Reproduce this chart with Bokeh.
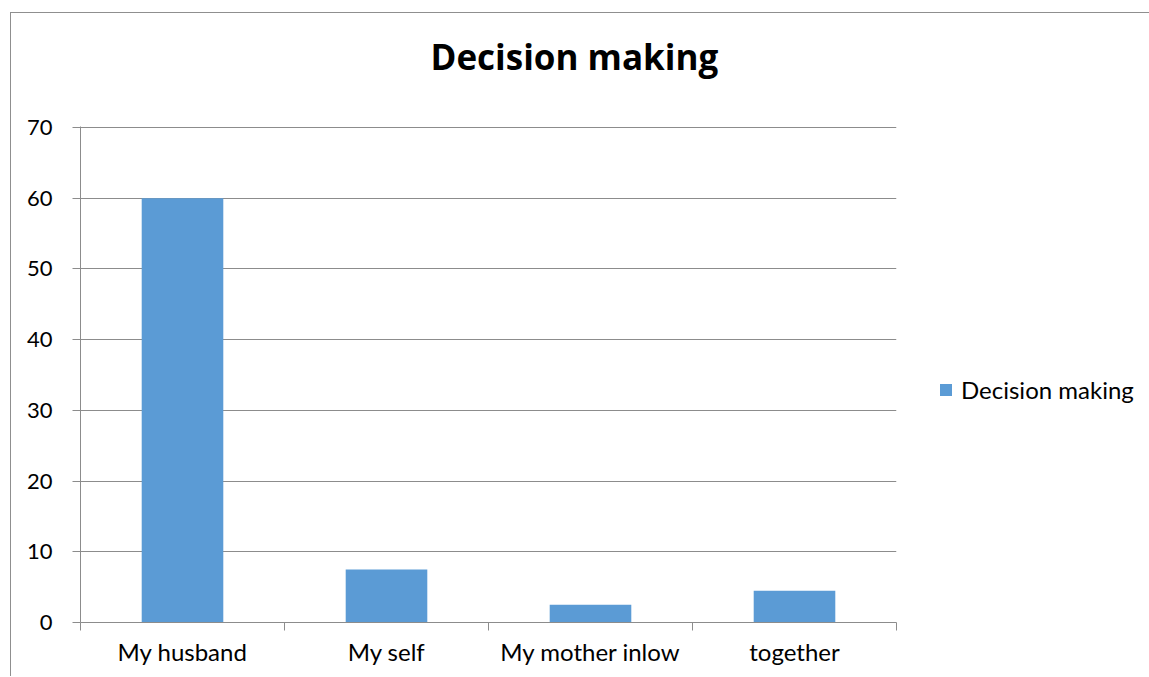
from bokeh.plotting import figure
from bokeh.models import (Range1d, LinearAxis, FixedTicker, Title,
                          Legend, LegendItem, ColumnDataSource)
from bokeh.embed import file_html
from bokeh.resources import INLINE

categories = ["My husband", "My self", "My mother inlow", "together"]
values = [60, 7.5, 2.5, 4.5]
series_name = "Decision making"
title_text = "Decision making"
y_ticks = [0, 10, 20, 30, 40, 50, 60, 70]

FONT = "Lato"
GRID = "#8c8c8c"
BAR = "#5b9bd5"

n = len(categories)
centers = [i + 0.5 for i in range(n)]
src = ColumnDataSource(dict(x=centers, cat=categories, val=values))

p = figure(x_range=Range1d(0, n), y_range=Range1d(0, 70.15),
           frame_width=816, frame_height=496, output_backend="svg", toolbar_location=None,
           min_border_left=69, min_border_right=0, min_border_top=113, min_border_bottom=54)
p.styles = {"margin-left": "10px", "margin-top": "12px",
            "border-left": "1.5px solid #8f8f8f", "border-top": "1.5px solid #8f8f8f"}
p.outline_line_color = None
p.background_fill_color = "white"
p.border_fill_color = "white"
p.title.text = ""
p.title.standoff = 0

r = p.vbar(x="x", top="val", width=0.4, source=src, fill_color=BAR, line_color=None)

# grid
p.xgrid.grid_line_color = None
p.ygrid.grid_line_color = GRID
p.ygrid.grid_line_width = 1
p.ygrid.ticker = FixedTicker(ticks=y_ticks)

# y axis
yax = p.yaxis[0]
yax.ticker = FixedTicker(ticks=y_ticks)
yax.axis_line_color = GRID
yax.major_tick_line_color = GRID
yax.major_tick_out = 8
yax.major_tick_in = 0
yax.minor_tick_line_color = None
yax.major_label_text_font = FONT
yax.major_label_text_font_size = "22px"
yax.major_label_text_color = "black"
yax.major_label_standoff = 20

# x axis: ticks at category boundaries
edge_axis = p.xaxis[0]
edge_axis.ticker = FixedTicker(ticks=list(range(n + 1)))
edge_axis.axis_line_color = GRID
edge_axis.major_tick_line_color = GRID
edge_axis.major_tick_out = 8
edge_axis.major_tick_in = 0
edge_axis.minor_tick_line_color = None
edge_axis.major_label_text_font_size = "1px"
edge_axis.major_label_text_alpha = 0
edge_axis.major_label_standoff = 0

# category labels at centers
cax = LinearAxis(ticker=FixedTicker(ticks=centers),
                 major_label_overrides={c: lab for c, lab in zip(centers, categories)})
cax.axis_line_color = None
cax.major_tick_line_color = None
cax.minor_tick_line_color = None
cax.major_label_text_font = FONT
cax.major_label_text_font_size = "24px"
cax.major_label_text_color = "black"
cax.major_label_standoff = 0
p.add_layout(cax, "below")

# title (a blank spacer keeps it clear of the plot area)
p.add_layout(Title(text=" ", text_font=FONT, text_font_size="26px", standoff=0), "above")
p.add_layout(Title(text=title_text, text_font="Open Sans", text_font_size="35px",
                   text_font_style="bold", text_color="black", align="left",
                   offset=350, standoff=25), "above")

# legend
legend = Legend(items=[LegendItem(label=series_name, renderers=[r])],
                location=(42, 218), glyph_width=15, glyph_height=15, label_standoff=8,
                padding=0, margin=0, border_line_color=None, background_fill_alpha=0,
                label_text_font=FONT, label_text_font_size="24px", label_text_color="black")
p.add_layout(legend, "right")

open("out.html", "w").write(file_html(p, INLINE))
